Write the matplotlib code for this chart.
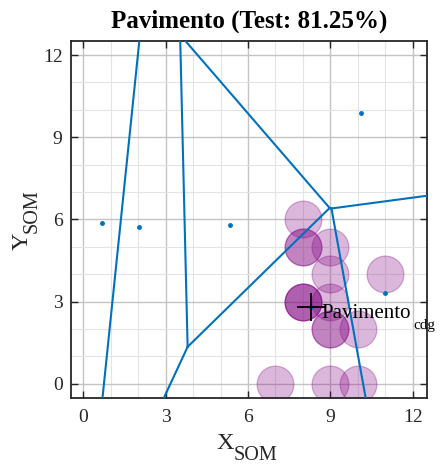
import numpy as np
import matplotlib
matplotlib.use("Agg")
import matplotlib.pyplot as plt
from matplotlib.ticker import MultipleLocator

plt.rcParams['font.family'] = ['Liberation Serif', 'DejaVu Serif']

# class centroids on the SOM map (voronoi seeds)
seed_x = [0.67, 2.03, 5.36, 10.12, 11.0, 8.28]
seed_y = [5.86, 5.72, 5.80, 9.90, 3.31, 2.82]

# test samples of class "Pavimento" projected on the map (repeats = overlapping hits)
sample_x = [7, 9, 10, 8, 8, 8, 9, 9, 9, 10, 9, 11, 8, 8, 9, 8]
sample_y = [0, 0, 0, 3, 3, 3, 3, 2, 2, 2, 4, 4, 5, 5, 5, 6]

cdg_x, cdg_y = 8.28, 2.82
title = 'Pavimento (Test: 81.25%)'


def voronoi_segments(xs, ys, L=200.0):
    """Voronoi edges by brute force: bisector of each pair clipped by others."""
    P = np.column_stack([xs, ys])
    segs = []
    n = len(P)
    for i in range(n):
        for j in range(i + 1, n):
            m = (P[i] + P[j]) / 2
            v = P[j] - P[i]
            d = np.array([-v[1], v[0]]) / np.hypot(*v)
            lo, hi = -L, L
            for k in range(n):
                if k in (i, j):
                    continue
                a = 2 * (P[k] - P[i])
                rhs = P[k] @ P[k] - P[i] @ P[i] - a @ m
                c = a @ d
                if abs(c) < 1e-12:
                    if rhs < 0:
                        lo, hi = 1, 0
                    continue
                t = rhs / c
                if c > 0:
                    hi = min(hi, t)
                else:
                    lo = max(lo, t)
            if lo < hi:
                segs.append((m + lo * d, m + hi * d))
    return segs


fig = plt.figure(figsize=(4.43, 4.65), dpi=100)
ax = fig.add_axes([0.160, 0.145, 0.804, 0.766])

purple = (0.5, 0.0, 0.5)
for sx, sy in zip(sample_x, sample_y):
    ax.plot(sx, sy, 'o', ms=26.5, mfc=(*purple, 0.28), mec=(*purple, 0.3),
            mew=0.9, zorder=2)

for a, b in voronoi_segments(seed_x, seed_y):
    ax.plot([a[0], b[0]], [a[1], b[1]], color='#0072BD', lw=1.5, zorder=3)

ax.plot(seed_x, seed_y, '.', color='#0072BD', ms=5, zorder=4)
ax.plot(cdg_x, cdg_y, '+', color='black', ms=20, mew=1.3, zorder=5)

# "Pavimento" with a big, low subscript "cdg" (MATLAB tex style)
t = ax.text(cdg_x + 0.39, cdg_y - 0.40, 'Pavimento', fontsize=15,
            ha='left', va='baseline', color='black', zorder=6)
ax.annotate('cdg', xy=(1, 0), xycoords=t, xytext=(1.5, -4.7),
            textcoords='offset points', fontsize=11, ha='left',
            va='baseline', color='black', zorder=6, annotation_clip=False)

ax.set_xlim(-0.45, 12.52)
ax.set_ylim(-0.5, 12.5)
ax.xaxis.set_major_locator(MultipleLocator(3))
ax.yaxis.set_major_locator(MultipleLocator(3))
ax.xaxis.set_minor_locator(MultipleLocator(1))
ax.yaxis.set_minor_locator(MultipleLocator(1))
ax.grid(which='major', color='#c4c4c4', lw=1.0, zorder=0)
ax.grid(which='minor', color='#e4e4e4', lw=0.8, zorder=0)
ax.set_axisbelow(True)
ax.tick_params(which='major', direction='in', top=True, right=True,
               length=5, width=1, labelsize=14, colors='#262626')
ax.tick_params(axis='x', pad=8)
ax.tick_params(axis='y', pad=6)
ax.tick_params(which='minor', length=0)
for s in ax.spines.values():
    s.set_linewidth(1.3)
    s.set_color('#262626')

ax.text(0.5, 1.0385, title, transform=ax.transAxes, fontsize=18,
        fontweight='bold', ha='center', va='baseline')

# axis labels with large lowered subscripts
ax.text(0.458, -0.144, 'X', transform=ax.transAxes, fontsize=17.5,
        ha='right', va='baseline', color='#262626')
ax.text(0.458, -0.175, 'SOM', transform=ax.transAxes, fontsize=14.5,
        ha='left', va='baseline', color='#262626')
ax.text(-0.12, 0.4626, 'Y', transform=ax.transAxes, fontsize=17.5,
        rotation=90, rotation_mode='anchor', ha='right', va='baseline',
        color='#262626')
ax.text(-0.0966, 0.4626, 'SOM', transform=ax.transAxes, fontsize=14.5,
        rotation=90, rotation_mode='anchor', ha='left', va='baseline',
        color='#262626')

fig.savefig('out.png', dpi=100)
